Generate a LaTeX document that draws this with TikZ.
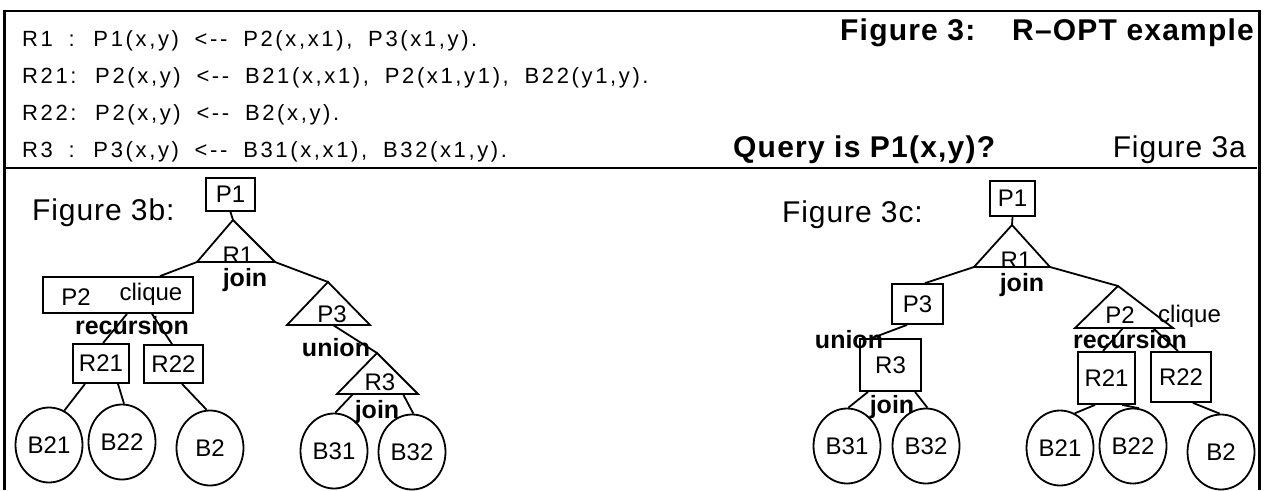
\documentclass[tikz,border=0pt]{standalone}
\usepackage{fontspec}
\setmainfont{Liberation Sans}
\newfontfamily\rulefont[LetterSpace=12,WordSpace=1.8]{Liberation Sans}
\newfontfamily\bigfont[LetterSpace=3]{Liberation Sans}
\newfontfamily\bigbfont[LetterSpace=4]{Liberation Sans Bold}
\usetikzlibrary{shapes.geometric}
\tikzset{
  ln/.style={line width=1.8pt},
  box/.style={draw, line width=1.8pt, inner sep=0pt, font=\fontsize{24}{28}\selectfont},
  circ/.style={draw, ellipse, line width=1.8pt, inner sep=0pt, minimum width=67pt, minimum height=75pt, font=\fontsize{24}{28}\selectfont},
  tri/.style={line width=1.8pt, line join=miter},
  lab/.style={inner sep=0pt, font=\fontsize{24}{28}\selectfont},
  blab/.style={inner sep=0pt, font=\fontsize{25}{29}\selectfont\bfseries},
  rulerow/.style={inner sep=0pt, anchor=base west, font=\fontsize{22}{26}\selectfont\rulefont},
  big/.style={inner sep=0pt, font=\fontsize{30}{34}\selectfont\bigfont},
  bigb/.style={inner sep=0pt, font=\fontsize{30}{34}\selectfont\bigbfont},
}
\begin{document}
\begin{tikzpicture}[x=1pt,y=-1pt]
\useasboundingbox (0,0) rectangle (1265,490);
% frame
\coordinate (fTL) at (4,11);
\coordinate (fTR) at (1259,11);
\coordinate (fBL) at (4,490);
\coordinate (fBR) at (1259,490);
\coordinate (dL) at (6,168);
\coordinate (dR) at (1257,168);
\draw[line width=3pt] (fBL) -- (fTL |- 0,9.5);
\draw[line width=2.5pt] (fTL) -- (fTR);
\draw[line width=3pt] (fTR |- 0,9.5) -- (fBR);
\draw[line width=1.8pt] (dL) -- (dR);
% header
\node[rulerow] (r1) at (22,46) {R1 : P1(x,y) <-{}- P2(x,x1), P3(x1,y).};
\node[rulerow] (r2) at (22,83) {R21: P2(x,y) <-{}- B21(x,x1), P2(x1,y1), B22(y1,y).};
\node[rulerow] (r3) at (22,120) {R22: P2(x,y) <-{}- B2(x,y).};
\node[rulerow] (r4) at (22,157) {R3 : P3(x,y) <-{}- B31(x,x1), B32(x1,y).};
\node[bigb, anchor=base west] (t1) at (840,40) {Figure 3:};
\node[bigb, anchor=base east] (t2) at (1254,40) {R–OPT example};
\node[bigb, anchor=base west] (q) at (733,157) {Query is P1(x,y)?};
\node[big, anchor=base east] (f3a) at (1246,157) {Figure 3a};
% ---------- Figure 3b ----------
\node[big, anchor=base west] (f3b) at (32,220) {Figure 3b:};
\node[box, minimum width=49pt, minimum height=33pt] (P1b) at (230.5,194.5) {P1};
\coordinate (R1bA) at (233,220);
\coordinate (R1bL) at (197,262);
\coordinate (R1bR) at (275,262);
\draw[tri] (R1bA) -- (R1bL) -- (R1bR) -- cycle;
\node[lab, anchor=base] (R1bt) at (238,263) {R1};
\node[blab] (j1) at (245,280) {join};
\node[box, minimum width=150pt, minimum height=36pt] (P2b) at (118,295) {};
\node[lab] (P2bt) at (76,297) {P2};
\node[lab] (clb) at (151,294) {clique};
\node[blab] (recb) at (132,326) {recursion};
\node[box, minimum width=56pt, minimum height=39pt] (R21b) at (101,363.5) {R21};
\node[box, minimum width=59pt, minimum height=38pt] (R22b) at (173.5,364) {R22};
\node[circ] (B21b) at (49,445) {B21};
\node[circ] (B22b) at (122,442) {B22};
\node[circ] (B2b) at (210,448) {B2};
\coordinate (P3bA) at (328,282);
\coordinate (P3bL) at (287,325);
\coordinate (P3bR) at (370,325);
\coordinate (P3bM) at (333,325);
\draw[tri] (P3bA) -- (P3bL) -- (P3bR) -- cycle;
\node[lab, anchor=base] (P3bt) at (332,322) {P3};
\node[blab] (unb) at (336,348) {union};
\coordinate (R3bA) at (377,353);
\coordinate (R3bL) at (337,394);
\coordinate (R3bR) at (418,394);
\coordinate (R3bM1) at (353,394);
\coordinate (R3bM2) at (403,394);
\draw[tri] (R3bA) -- (R3bL) -- (R3bR) -- cycle;
\node[lab, anchor=base] (R3bt) at (380,390) {R3};
\node[blab] (j3b) at (377,412) {join};
\node[circ] (B31b) at (334,451) {B31};
\node[circ] (B32b) at (412,452) {B32};
\draw[ln] (P1b.south) -- (R1bA);
\draw[ln] (R1bL) -- ([xshift=42pt]P2b.north);
\draw[ln] (R1bR) -- (P3bA);
\draw[ln] ([xshift=9pt]P2b.south) -- ([xshift=2pt]R21b.north);
\draw[ln] ([xshift=34pt]P2b.south) -- ([xshift=-1.5pt]R22b.north);
\draw[ln] ([xshift=-16pt]R21b.south) -- (B21b.66);
\draw[ln] ([xshift=17pt]R21b.south) -- (B22b.87);
\draw[ln] ([xshift=8.5pt]R22b.south) -- (B2b.95);
\draw[ln] (P3bM) -- (R3bA);
\draw[ln] (R3bM1) -- (B31b.88);
\draw[ln] (R3bM2) -- (B32b.88);
% ---------- Figure 3c ----------
\node[big, anchor=base west] (f3c) at (782,222) {Figure 3c:};
\node[box, minimum width=45pt, minimum height=35pt] (P1c) at (1012.5,198.5) {P1};
\coordinate (R1cA) at (1012,225);
\coordinate (R1cL) at (974,267);
\coordinate (R1cR) at (1050,267);
\draw[tri] (R1cA) -- (R1cL) -- (R1cR) -- cycle;
\node[lab, anchor=base] (R1ct) at (1016,268) {R1};
\node[blab] (j1c) at (1022,285) {join};
\node[box, minimum width=51pt, minimum height=40pt] (P3c) at (917.5,304) {P3};
\node[blab] (unc) at (849,340) {union};
\node[box, minimum width=61pt, minimum height=52pt] (R3c) at (890.5,365) {R3};
\node[blab] (j3c) at (892,407) {join};
\node[circ] (B31c) at (847,446) {B31};
\node[circ] (B32c) at (926,446) {B32};
\coordinate (P2cA) at (1118,286);
\coordinate (P2cL) at (1075,328);
\coordinate (P2cR) at (1173,328);
\coordinate (P2cM1) at (1123,328);
\coordinate (P2cM2) at (1153,328);
\draw[tri] (P2cA) -- (P2cL) -- (P2cR) -- cycle;
\node[lab, anchor=base] (P2ct) at (1120,323) {P2};
\node[lab, anchor=base west] (clc) at (1158,322) {clique};
\node[blab] (recc) at (1130,340) {recursion};
\node[box, minimum width=57pt, minimum height=52pt] (R21c) at (1106.5,378) {R21};
\node[box, minimum width=60pt, minimum height=50pt] (R22c) at (1181,377) {R22};
\node[circ] (B21c) at (1060,448) {B21};
\node[circ] (B22c) at (1133,446) {B22};
\node[circ] (B2c) at (1221,452) {B2};
\draw[ln] (P1c.south) -- (R1cA);
\draw[ln] (R1cL) -- ([xshift=7.5pt]P3c.north);
\draw[ln] (R1cR) -- (P2cA);
\draw[ln] ([xshift=-10.5pt]P3c.south) -- ([xshift=-18.5pt]R3c.north);
\draw[ln] ([xshift=-22.5pt]R3c.south) -- (B31c.88);
\draw[ln] ([xshift=24.5pt]R3c.south) -- (B32c.88);
\draw[ln] (P2cM1) -- ([xshift=-3.5pt]R21c.north);
\draw[ln] (P2cM2) -- ([xshift=-3pt]R22c.north);
\draw[ln] ([xshift=-11.5pt]R21c.south) -- (B21c.67);
\draw[ln] ([xshift=15.5pt]R21c.south) -- (B22c.81);
\draw[ln] ([xshift=12pt]R22c.south) -- (B2c.92);
\end{tikzpicture}
\end{document}
